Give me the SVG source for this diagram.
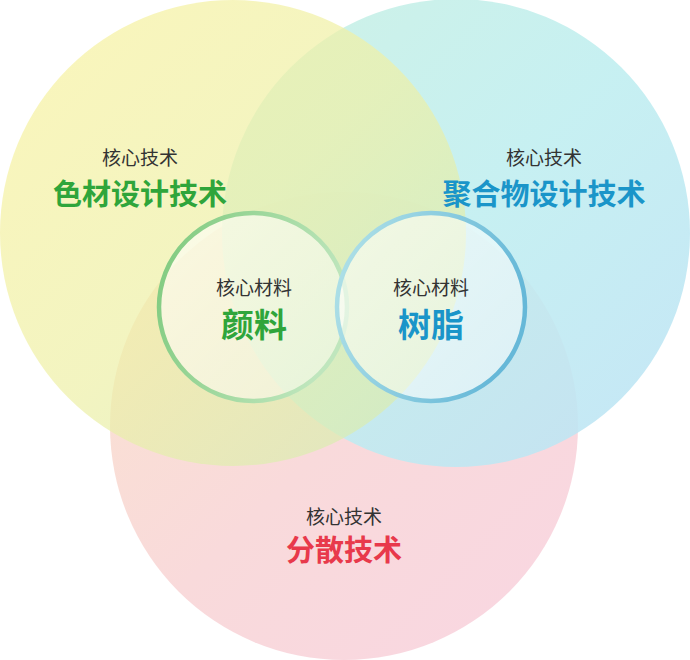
<svg xmlns="http://www.w3.org/2000/svg" width="690" height="660" viewBox="0 0 690 660">
  <defs>
    <linearGradient id="gY" x1="0" y1="0" x2="1" y2="1">
      <stop offset="0" stop-color="#f9f2a0"/>
      <stop offset="0.5" stop-color="#eef0a8"/>
      <stop offset="1" stop-color="#d2ebb6"/>
    </linearGradient>
    <linearGradient id="gC" x1="0" y1="0" x2="1" y2="1">
      <stop offset="0" stop-color="#c8f0e2"/>
      <stop offset="0.5" stop-color="#bfeef0"/>
      <stop offset="1" stop-color="#bde2f5"/>
    </linearGradient>
    <linearGradient id="gP" x1="0" y1="0" x2="1" y2="1">
      <stop offset="0" stop-color="#fae3cf"/>
      <stop offset="0.5" stop-color="#f9dadb"/>
      <stop offset="1" stop-color="#f9d6e2"/>
    </linearGradient>
    <linearGradient id="sG" x1="0" y1="0" x2="1" y2="0.3">
      <stop offset="0" stop-color="#7dc97c"/>
      <stop offset="1" stop-color="#bfe6bd"/>
    </linearGradient>
    <linearGradient id="sB" x1="0" y1="0" x2="1" y2="0.3">
      <stop offset="0" stop-color="#b4e3e8"/>
      <stop offset="1" stop-color="#66b8d8"/>
    </linearGradient>
    <linearGradient id="fIn" x1="0" y1="0" x2="1" y2="1">
      <stop offset="0" stop-color="#ffffff" stop-opacity="0.6"/>
      <stop offset="1" stop-color="#ffffff" stop-opacity="0.4"/>
    </linearGradient>
  </defs>
  <style>
    .sm { font-family: "Noto Sans CJK SC", "Noto Sans", sans-serif; font-size: 19px; fill: #333333; text-anchor: middle; }
    .big { font-family: "Noto Sans CJK SC", "Noto Sans", sans-serif; font-size: 29px; font-weight: 700; text-anchor: middle; }
    .mid { font-family: "Noto Sans CJK SC", "Noto Sans", sans-serif; font-size: 33px; font-weight: 700; text-anchor: middle; }
    .green { fill: #2fa53b; }
    .blue { fill: #1a95c9; }
    .red { fill: #e8394b; }
  </style>
  <g id="circle-dispersion">
    <circle cx="344" cy="426" r="234" fill="url(#gP)"/>
  </g>
  <g id="circle-polymer">
    <circle cx="456" cy="233" r="234" fill="url(#gC)" opacity="0.88"/>
  </g>
  <g id="circle-colorant">
    <circle cx="233" cy="233" r="233" fill="url(#gY)" opacity="0.72"/>
  </g>
  <g id="label-colorant">
    <text class="sm" x="140" y="165">核心技术</text>
    <text class="big green" x="140" y="205">色材设计技术</text>
  </g>
  <g id="label-polymer">
    <text class="sm" x="544" y="165">核心技术</text>
    <text class="big blue" x="544" y="205">聚合物设计技术</text>
  </g>
  <g id="label-dispersion">
    <text class="sm" x="344" y="524">核心技术</text>
    <text class="big red" x="344" y="561">分散技术</text>
  </g>
  <g id="node-pigment">
    <circle cx="253" cy="307" r="94" fill="url(#fIn)" stroke="url(#sG)" stroke-width="4.5"/>
    <text class="sm" x="254" y="295">核心材料</text>
    <text class="mid green" x="254" y="337">颜料</text>
  </g>
  <g id="node-resin">
    <circle cx="431" cy="307" r="94" fill="url(#fIn)" stroke="url(#sB)" stroke-width="4.5"/>
    <text class="sm" x="431" y="295">核心材料</text>
    <text class="mid blue" x="431" y="337">树脂</text>
  </g>
  <g id="connectors"/>
</svg>
